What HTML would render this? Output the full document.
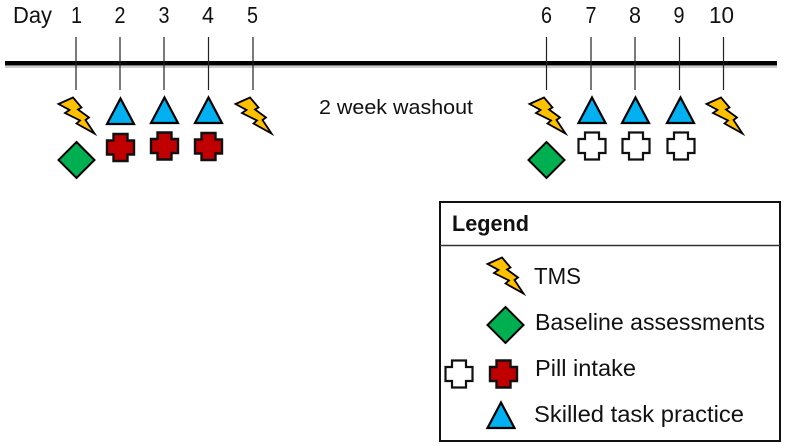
<!DOCTYPE html>
<html>
<head>
<meta charset="utf-8">
<style>
html,body{margin:0;padding:0;background:#fff;width:786px;height:447px;overflow:hidden}
svg{display:block;filter:blur(0.35px)}
text{font-family:"Liberation Sans",sans-serif;fill:#111}
</style>
</head>
<body>
<svg width="786" height="447" viewBox="0 0 786 447" xmlns="http://www.w3.org/2000/svg">
<defs>
<polygon id="bolt" points="0.500,7 15,0.500 23.500,10.500 20,12.500 31,20.500 27.500,23 36.500,36.500 18.500,26.500 22,23.500 7,16 11.500,13" fill="#FFC000" stroke="#000" stroke-width="1.8" stroke-linejoin="miter" stroke-miterlimit="5"/>
<polygon id="dia" points="0,-18 18,0 0,18 -18,0" fill="#00B050" stroke="#000" stroke-width="2"/>
<polygon id="tri" points="0,0.500 13.500,26 -13.500,26" fill="#00B0F0" stroke="#000" stroke-width="2.2"/>
<polygon id="crossR" points="-7,-13.500 7,-13.500 7,-7 13.500,-7 13.500,7 7,7 7,13.500 -7,13.500 -7,7 -13.500,7 -13.500,-7 -7,-7" fill="#C00000" stroke="#111" stroke-width="2.4"/>
<polygon id="crossW" points="-7,-13.500 7,-13.500 7,-7 13.500,-7 13.500,7 7,7 7,13.500 -7,13.500 -7,7 -13.500,7 -13.500,-7 -7,-7" fill="#fff" stroke="#111" stroke-width="2.2"/>
</defs>

<!-- timeline -->
<rect x="5" y="64" width="772" height="4" fill="#ccc"/>
<rect x="5" y="61" width="772" height="4.400" fill="#000"/>
<g stroke="#222" stroke-width="1.2">
<line x1="76" y1="37" x2="76" y2="90"/>
<line x1="120" y1="37" x2="120" y2="90"/>
<line x1="164" y1="37" x2="164" y2="90"/>
<line x1="208.500" y1="37" x2="208.500" y2="90"/>
<line x1="253" y1="37" x2="253" y2="90"/>
<line x1="546.500" y1="37" x2="546.500" y2="90"/>
<line x1="591" y1="37" x2="591" y2="90"/>
<line x1="635" y1="37" x2="635" y2="90"/>
<line x1="679.500" y1="37" x2="679.500" y2="90"/>
<line x1="723.500" y1="37" x2="723.500" y2="90"/>
</g>

<!-- day labels -->
<g font-size="23">
<text x="13" y="23" textLength="39" lengthAdjust="spacingAndGlyphs">Day</text>
<text x="71" y="23" textLength="11" lengthAdjust="spacingAndGlyphs">1</text>
<text x="114.500" y="23" textLength="11" lengthAdjust="spacingAndGlyphs">2</text>
<text x="158.500" y="23" textLength="11" lengthAdjust="spacingAndGlyphs">3</text>
<text x="202" y="23" textLength="12" lengthAdjust="spacingAndGlyphs">4</text>
<text x="247" y="23" textLength="11" lengthAdjust="spacingAndGlyphs">5</text>
<text x="541" y="23" textLength="11" lengthAdjust="spacingAndGlyphs">6</text>
<text x="585.500" y="23" textLength="11" lengthAdjust="spacingAndGlyphs">7</text>
<text x="629" y="23" textLength="12" lengthAdjust="spacingAndGlyphs">8</text>
<text x="673.500" y="23" textLength="11" lengthAdjust="spacingAndGlyphs">9</text>
<text x="709" y="23" textLength="25" lengthAdjust="spacingAndGlyphs">10</text>
</g>
<text x="319" y="114" font-size="20.500" textLength="154" lengthAdjust="spacingAndGlyphs">2 week washout</text>

<!-- symbols -->
<use href="#bolt" x="58" y="97"/>
<use href="#bolt" x="235" y="97"/>
<use href="#bolt" x="529" y="97"/>
<use href="#bolt" x="706" y="97"/>
<use href="#dia" x="76.500" y="160"/>
<use href="#dia" x="546.500" y="160"/>
<use href="#tri" x="120.500" y="98"/>
<use href="#tri" x="164.500" y="97"/>
<use href="#tri" x="208.500" y="97"/>
<use href="#tri" x="592" y="97"/>
<use href="#tri" x="635.500" y="97"/>
<use href="#tri" x="680.500" y="97"/>
<use href="#crossR" x="120.500" y="147.500"/>
<use href="#crossR" x="164.500" y="146"/>
<use href="#crossR" x="208.500" y="146.500"/>
<use href="#crossW" x="592" y="146"/>
<use href="#crossW" x="636" y="146"/>
<use href="#crossW" x="681" y="146"/>

<!-- legend -->
<rect x="440" y="202" width="340" height="239" fill="#fff" stroke="#111" stroke-width="2"/>
<line x1="440" y1="245.500" x2="780" y2="245.500" stroke="#333" stroke-width="1.6"/>
<text x="452" y="231" font-size="22" font-weight="bold" textLength="77" lengthAdjust="spacingAndGlyphs">Legend</text>
<use href="#bolt" x="487" y="257"/>
<use href="#dia" x="505.500" y="325"/>
<use href="#crossW" x="459" y="374"/>
<use href="#crossR" x="503.500" y="374"/>
<use href="#tri" x="501" y="402"/>
<g font-size="23.500">
<text x="534" y="284" textLength="47" lengthAdjust="spacingAndGlyphs">TMS</text>
<text x="535" y="330" textLength="230" lengthAdjust="spacingAndGlyphs">Baseline assessments</text>
<text x="535" y="376" textLength="101" lengthAdjust="spacingAndGlyphs">Pill intake</text>
<text x="534" y="422" textLength="210" lengthAdjust="spacingAndGlyphs">Skilled task practice</text>
</g>
</svg>
</body>
</html>
